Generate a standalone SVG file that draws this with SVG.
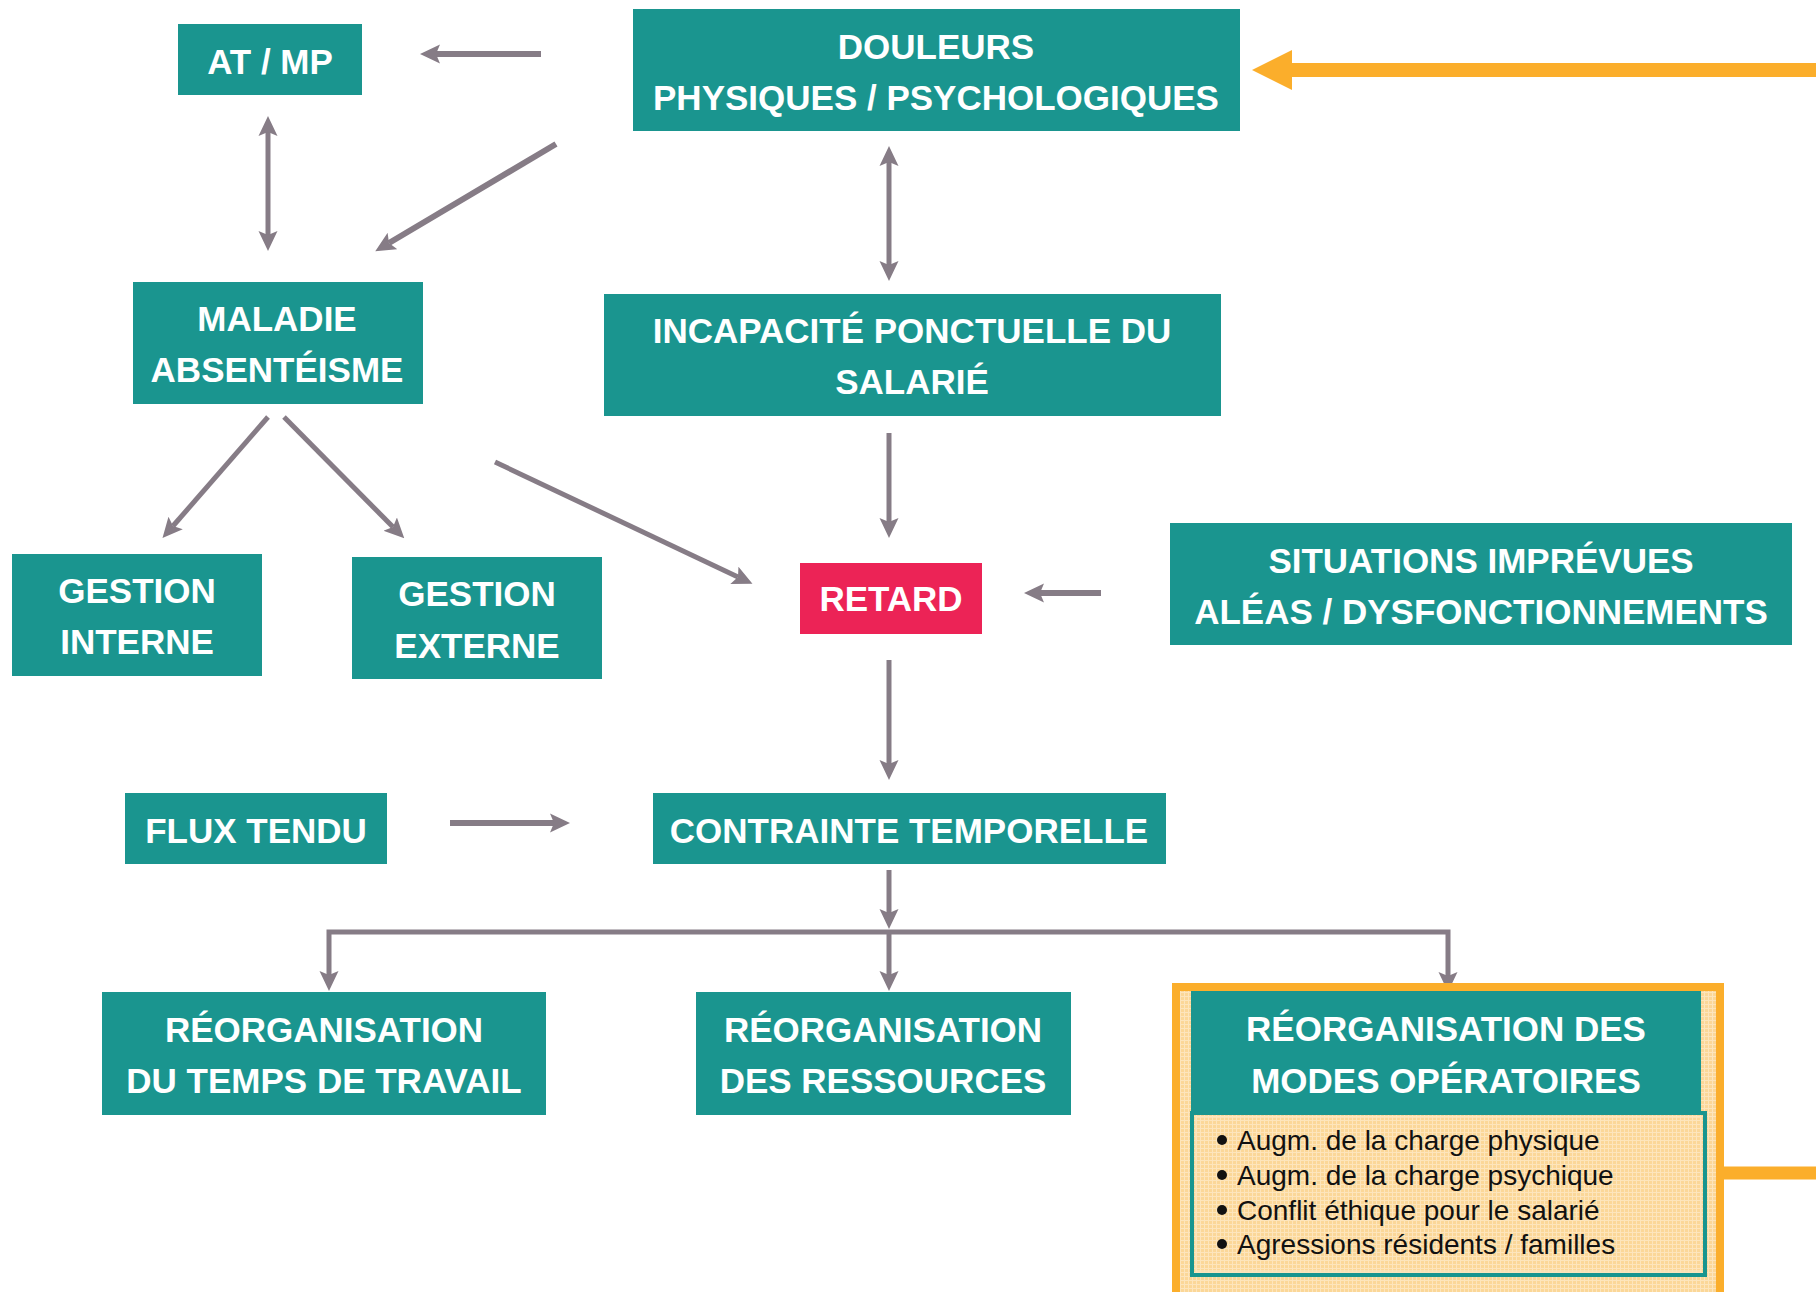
<svg xmlns="http://www.w3.org/2000/svg" width="1816" height="1292" viewBox="0 0 1816 1292">
  <defs>
    <style>
      .box { fill: #1A958F; }
      .hot { fill: #EC2356; }
      .t { font-family: "Liberation Sans", Arial, sans-serif; font-weight: bold; font-size: 35px; fill: #FFFFFF; text-anchor: middle; }
      .b { font-family: "Liberation Sans", Arial, sans-serif; font-size: 28px; fill: #111111; }
      .dot { fill: #111111; }
      .c { fill: none; stroke: #867C86; stroke-width: 5; }
      .cw { stroke-width: 6; }
      .o { fill: none; stroke: #FBAE2B; }
    </style>
    <marker id="ah" viewBox="0 0 20 20" refX="4" refY="10" markerWidth="20" markerHeight="20" markerUnits="userSpaceOnUse" orient="auto-start-reverse">
      <path d="M0,0.5 L20,10 L0,19.5 L4,10 z" fill="#867C86"/>
    </marker>
    <marker id="oh" viewBox="0 0 40 40" refX="1" refY="20" markerWidth="40" markerHeight="40" markerUnits="userSpaceOnUse" orient="auto">
      <path d="M0,0 L40,20 L0,40 z" fill="#FBAE2B"/>
    </marker>
    <pattern id="grid" width="4" height="4" patternUnits="userSpaceOnUse">
      <rect width="4" height="4" fill="#FBD798"/>
      <path d="M0,0.5 H4 M0.5,0 V4" stroke="#FDE5BC" stroke-width="1"/>
    </pattern>
  </defs>

  <rect width="1816" height="1292" fill="#FFFFFF"/>

  <!-- connectors -->
  <g id="connectors">
    <line class="c cw" x1="541" y1="54" x2="436" y2="54" marker-end="url(#ah)"/>
    <line class="c" x1="268" y1="132" x2="268" y2="235" marker-start="url(#ah)" marker-end="url(#ah)"/>
    <line class="c cw" x1="556" y1="144" x2="389" y2="243" marker-end="url(#ah)"/>
    <line class="c" x1="889" y1="162" x2="889" y2="265" marker-start="url(#ah)" marker-end="url(#ah)"/>
    <line class="c" x1="268" y1="417" x2="173" y2="526" marker-end="url(#ah)"/>
    <line class="c" x1="284" y1="417" x2="393" y2="527" marker-end="url(#ah)"/>
    <line class="c" x1="495" y1="462" x2="738" y2="577" marker-end="url(#ah)"/>
    <line class="c" x1="889" y1="433" x2="889" y2="522" marker-end="url(#ah)"/>
    <line class="c cw" x1="1101" y1="593" x2="1040" y2="593" marker-end="url(#ah)"/>
    <line class="c" x1="889" y1="660" x2="889" y2="764" marker-end="url(#ah)"/>
    <line class="c cw" x1="450" y1="823" x2="554" y2="823" marker-end="url(#ah)"/>
    <line class="c" x1="889" y1="870" x2="889" y2="913" marker-end="url(#ah)"/>
    <path class="c" d="M329,975 V932 H1448 V976" marker-start="url(#ah)" marker-end="url(#ah)"/>
    <line class="c" x1="889" y1="932" x2="889" y2="975" marker-end="url(#ah)"/>
    <line class="o" stroke-width="14" x1="1816" y1="70" x2="1291" y2="70" marker-end="url(#oh)"/>
    <line class="o" stroke-width="13" x1="1722" y1="1173" x2="1816" y2="1173"/>
  </g>

  <g id="n-atmp">
    <rect class="box" x="178" y="24" width="184" height="71"/>
    <text class="t" x="270" y="74">AT / MP</text>
  </g>

  <g id="n-douleurs">
    <rect class="box" x="633" y="9" width="607" height="122"/>
    <text class="t" x="936" y="59">DOULEURS</text>
    <text class="t" x="936" y="110">PHYSIQUES / PSYCHOLOGIQUES</text>
  </g>

  <g id="n-maladie">
    <rect class="box" x="133" y="282" width="290" height="122"/>
    <text class="t" x="277" y="331">MALADIE</text>
    <text class="t" x="277" y="382">ABSENTÉISME</text>
  </g>

  <g id="n-incapacite">
    <rect class="box" x="604" y="294" width="617" height="122"/>
    <text class="t" x="912" y="343">INCAPACITÉ PONCTUELLE DU</text>
    <text class="t" x="912" y="394">SALARIÉ</text>
  </g>

  <g id="n-gestion-interne">
    <rect class="box" x="12" y="554" width="250" height="122"/>
    <text class="t" x="137" y="603">GESTION</text>
    <text class="t" x="137" y="654">INTERNE</text>
  </g>

  <g id="n-gestion-externe">
    <rect class="box" x="352" y="557" width="250" height="122"/>
    <text class="t" x="477" y="606">GESTION</text>
    <text class="t" x="477" y="658">EXTERNE</text>
  </g>

  <g id="n-retard">
    <rect class="hot" x="800" y="563" width="182" height="71"/>
    <text class="t" x="891" y="611">RETARD</text>
  </g>

  <g id="n-situations">
    <rect class="box" x="1170" y="523" width="622" height="122"/>
    <text class="t" x="1481" y="573">SITUATIONS IMPRÉVUES</text>
    <text class="t" x="1481" y="624">ALÉAS / DYSFONCTIONNEMENTS</text>
  </g>

  <g id="n-flux">
    <rect class="box" x="125" y="793" width="262" height="71"/>
    <text class="t" x="256" y="843">FLUX TENDU</text>
  </g>

  <g id="n-contrainte">
    <rect class="box" x="653" y="793" width="513" height="71"/>
    <text class="t" x="909" y="843">CONTRAINTE TEMPORELLE</text>
  </g>

  <g id="n-reorg-temps">
    <rect class="box" x="102" y="992" width="444" height="123"/>
    <text class="t" x="324" y="1042">RÉORGANISATION</text>
    <text class="t" x="324" y="1093">DU TEMPS DE TRAVAIL</text>
  </g>

  <g id="n-reorg-ressources">
    <rect class="box" x="696" y="992" width="375" height="123"/>
    <text class="t" x="883" y="1042">RÉORGANISATION</text>
    <text class="t" x="883" y="1093">DES RESSOURCES</text>
  </g>

  <g id="n-reorg-modes">
    <rect x="1176" y="987" width="544" height="400" fill="url(#grid)" stroke="#FBAE2B" stroke-width="8"/>
    <rect class="box" x="1191" y="991" width="510" height="122"/>
    <rect x="1192" y="1113" width="513" height="162" fill="url(#grid)" stroke="#1A958F" stroke-width="4"/>
    <rect x="1196" y="1117" width="505" height="154" fill="none" stroke="#FDE5BC" stroke-width="1.5"/>
    <text class="t" x="1446" y="1041">RÉORGANISATION DES</text>
    <text class="t" x="1446" y="1093">MODES OPÉRATOIRES</text>
    <circle class="dot" cx="1222" cy="1140" r="5"/>
    <circle class="dot" cx="1222" cy="1175" r="5"/>
    <circle class="dot" cx="1222" cy="1210" r="5"/>
    <circle class="dot" cx="1222" cy="1244" r="5"/>
    <g class="b">
      <text x="1237" y="1150">Augm. de la charge physique</text>
      <text x="1237" y="1185">Augm. de la charge psychique</text>
      <text x="1237" y="1220">Conflit éthique pour le salarié</text>
      <text x="1237" y="1254">Agressions résidents / familles</text>
    </g>
  </g>
</svg>
